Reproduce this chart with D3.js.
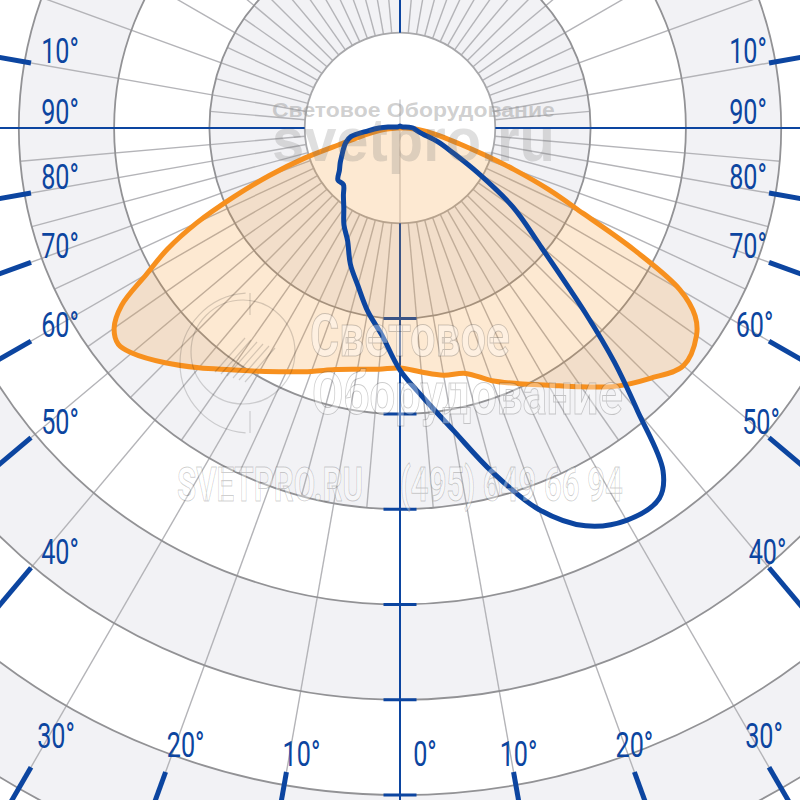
<!DOCTYPE html>
<html><head><meta charset="utf-8">
<script src="https://cdn.jsdelivr.net/npm/d3@7"></script>
<style>html,body{margin:0;padding:0;background:#fff}svg{display:block}</style>
</head><body>
<svg id="c" width="800" height="800"></svg>
<script>
// ---------------- DATA ----------------
// gamma angle (deg): 0 = straight down, negative = left, positive = right
const orangeAngles = [-180,-135,-100,-90,-85,-80,-77.5,-75,-72.5,-70,-67.5,-65,-62.5,-60,-57.5,-55,-52.5,-50,-45,-40,-35,-30,-25,-20,-15,-10,-5,0,5,10,15,20,25,30,35,40,45,50,55,57.5,60,62.5,65,67.5,70,72.5,75,80,85,90,100,135];
const orangeValues = [0.5,0.5,0.5,1.6,7.9,15.7,22,31.5,52.5,72.9,94.4,117.5,137.5,153.7,173.2,183.1,186.3,183.6,174.2,164.2,154.8,147.4,141.1,135.9,131.2,128.5,127,125.9,128.5,131.7,133.3,141.1,148,155.8,165.8,176.8,185.7,194.1,189.9,183.6,169.5,138.5,106,84.5,63.5,45.1,32.5,18.9,9.4,2.1,0.5,0.5];
const blueAngles = [-180,-135,-110,-100,-95,-90,-85,-80,-75,-70,-65,-60,-55,-50,-45,-40,-35,-30,-25,-20,-15,-10,-5,0,5,10,15,20,25,30,35,37.5,40,42.5,45,50,55,60,65,70,75,80,85,90,95,110,135];
const blueValues = [1,1,1.6,3.1,6.3,11,16.8,26.2,29.4,31.5,33.6,36.2,38.8,42.5,42,46.2,51.4,58.8,65.1,76.1,85.5,97.6,109.1,127,142.2,161.1,186.8,213,230.3,237.7,237.2,226.7,194.1,166.3,138,96,72.4,47.2,30.4,21,12.6,9.4,7.9,6.8,4.7,1.6,1];
const ringValues = [50,100,150,200,250,300,350,400,450];
const labelAngles = [-100,-90,-80,-70,-60,-50,-40,-30,-20,-10,0,10,20,30,40,50,60,70,80,90,100];
const labelTexts = ["10°","90°","80°","70°","60°","50°","40°","30°","20°","10°","0°","10°","20°","30°","40°","50°","60°","70°","80°","90°","10°"];
const tickAngles = [-100,-80,-70,-60,-50,-40,-30,-20,-10,10,20,30,40,50,60,70,80,100];

// ---------------- LAYOUT ----------------
const cx = 400, cy = 128;
const ringStep = 50, ringPx = 95.3;
const r = d3.scaleLinear().domain([0, ringStep]).range([0, ringPx]);
const rad = d => d * Math.PI / 180;
const pt = (g, rr) => [cx + rr * Math.sin(rad(g)), cy + rr * Math.cos(rad(g))];
const BLUE = "#0c45a0";
const svg = d3.select("#c");

// background bands
svg.append("g").selectAll("circle")
  .data(ringValues.map((v, i) => ({v, k: i + 1})).reverse())
  .join("circle")
  .attr("cx", cx).attr("cy", cy).attr("r", d => r(d.v))
  .attr("fill", d => d.k % 2 === 0 ? "#f2f2f5" : "#ffffff");

// radial grid lines
const r0 = r(ringValues[0]);
const fine = d3.range(-175, 180, 5).filter(g => g % 10 !== 0);
const coarse = d3.range(-170, 180, 10).filter(g => g !== 0 && Math.abs(g) !== 90);
const fineEnd = g => Math.abs(g) < 90 ? r(ringValues[3]) : r(ringValues[1]);
const gl = svg.append("g").attr("stroke", "#b4b4b8").attr("stroke-width", 1.4);
gl.selectAll("line.f").data(fine).join("line").attr("class", "f")
  .attr("x1", g => pt(g, r0)[0]).attr("y1", g => pt(g, r0)[1])
  .attr("x2", g => pt(g, fineEnd(g))[0]).attr("y2", g => pt(g, fineEnd(g))[1]);
gl.selectAll("line.c").data(coarse).join("line").attr("class", "c")
  .attr("x1", g => pt(g, r0)[0]).attr("y1", g => pt(g, r0)[1])
  .attr("x2", g => pt(g, 1300)[0]).attr("y2", g => pt(g, 1300)[1]);
// faint vertical line inside the inner circle
svg.append("line").attr("x1", cx).attr("x2", cx).attr("y1", cy - r0 * 0.3).attr("y2", cy + r0)
  .attr("stroke", "#c4c4c8").attr("stroke-width", 1.2);

// ring outlines
svg.append("g").selectAll("circle").data(ringValues).join("circle")
  .attr("cx", cx).attr("cy", cy).attr("r", d => r(d))
  .attr("fill", "none").attr("stroke", (d, i) => i === 0 ? "#a8a8ab" : "#929295").attr("stroke-width", 1.8);

// blue axes
const ax = svg.append("g").attr("stroke", BLUE).attr("stroke-width", 2);
ax.append("line").attr("x1", 0).attr("x2", cx - r0).attr("y1", cy).attr("y2", cy);
ax.append("line").attr("x1", cx + r0).attr("x2", 800).attr("y1", cy).attr("y2", cy);
ax.append("line").attr("x1", cx).attr("x2", cx).attr("y1", 0).attr("y2", cy - r0);
ax.append("line").attr("x1", cx).attr("x2", cx).attr("y1", cy + r0).attr("y2", 800);
svg.append("g").attr("stroke", BLUE).attr("stroke-width", 3)
  .selectAll("line").data(ringValues.slice(1, 7)).join("line")
  .attr("x1", cx - 16.5).attr("x2", cx + 16.5)
  .attr("y1", d => cy + r(d)).attr("y2", d => cy + r(d));

// frame points for angle ticks
const frameL = 31, frameR = 769, frameB = 772;
function framePoint(g) {
  const s = Math.sin(rad(g)), c = Math.cos(rad(g));
  let t = Infinity;
  if (s < 0) t = Math.min(t, (frameL - cx) / s);
  if (s > 0) t = Math.min(t, (frameR - cx) / s);
  if (c > 0) t = Math.min(t, (frameB - cy) / c);
  return t;
}
svg.append("g").attr("stroke", BLUE).attr("stroke-width", 5)
  .selectAll("line").data(tickAngles).join("line")
  .attr("x1", g => pt(g, framePoint(g))[0]).attr("y1", g => pt(g, framePoint(g))[1])
  .attr("x2", g => pt(g, 1300)[0]).attr("y2", g => pt(g, 1300)[1]);

// orange curve (filled)
const lineR = d3.lineRadial().curve(d3.curveCatmullRomClosed.alpha(0.5))
  .angle(d => Math.PI - rad(d[0])).radius(d => r(d[1]));
const orangeData = orangeAngles.map((a, i) => [a, orangeValues[i]]);
const blueData = blueAngles.map((a, i) => [a, blueValues[i]]);
const plot = svg.append("g").attr("transform", `translate(${cx},${cy})`);
plot.append("path").attr("d", lineR(orangeData))
  .attr("fill", "rgba(247,146,30,0.2)").attr("stroke", "#f7901e").attr("stroke-width", 5)
  .attr("stroke-linejoin", "round");

// watermark (scaled text: natural width * sx = target width)
const wm = svg.append("g");
function wText(parent, str, x, y, size, targetW, attrs) {
  const g = parent.append("g");
  const t = g.append("text").attr("font-size", size).text(str);
  Object.entries(attrs).forEach(([k, v]) => t.attr(k, v));
  const w = t.node().getComputedTextLength();
  g.attr("transform", `translate(${x},${y}) scale(${targetW / w},1)`);
  return g;
}
const sans = {"font-family": "Liberation Sans, Arial, sans-serif", "font-weight": "bold"};
wText(wm, "Световое Оборудование", 272, 117, 21, 283, {...sans, fill: "rgba(150,150,150,0.45)"});
wText(wm, "svetpro.ru", 272, 161, 62, 283, {...sans, fill: "rgba(110,110,110,0.22)"});
const emb = {"font-family": "Roboto, sans-serif", "font-weight": "bold", fill: "rgba(255,255,255,0.35)", stroke: "rgba(0,0,0,0.2)", "stroke-width": 1};
wText(wm, "Световое", 310, 356, 60, 200, emb);
wText(wm, "Оборудование", 312, 414, 60, 311, emb);
wText(wm, "SVETPRO.RU", 177, 501, 48, 186, emb);
wText(wm, "(495) 649 66 94", 400, 501, 48, 223, emb);
const logo = wm.append("g").attr("fill", "none").attr("stroke", "rgba(0,0,0,0.16)").attr("stroke-width", 1.2);
logo.append("circle").attr("cx", 243).attr("cy", 352).attr("r", 52);
logo.append("path").attr("d", d3.arc()({innerRadius: 70, outerRadius: 70, startAngle: -Math.PI * 0.02, endAngle: -Math.PI * 0.98}))
  .attr("transform", "translate(250,363)");
logo.append("line").attr("x1", 250).attr("x2", 250).attr("y1", 293).attr("y2", 315);
logo.append("line").attr("x1", 250).attr("x2", 250).attr("y1", 411).attr("y2", 433);
d3.range(6).forEach(i => {
  logo.append("line").attr("x1", 215 + i * 6).attr("y1", 372 + i * 2).attr("x2", 245 + i * 6).attr("y2", 338 + i * 2);
});

// blue curve
plot.append("path").attr("d", lineR(blueData))
  .attr("fill", "none").attr("stroke", BLUE).attr("stroke-width", 5).attr("stroke-linejoin", "round");

// angle labels
function labelPos(g) {
  const a = Math.abs(g);
  const p = pt(g, framePoint(g));
  if (a <= 30) {
    const y = 766 - Math.max(0, a - 10) * 0.9;
    if (g === 0) return {x: p[0] + 25, y};
    return {x: p[0] + 10 - 0.5 * g, y};
  }
  const y = a > 90 ? p[1] : p[1] - 4;
  if (g < 0) return {x: 60, y};
  return {x: 748 + Math.max(0, 70 - a) * 0.65, y};
}
svg.append("g").selectAll("g").data(labelAngles).join("g")
  .attr("transform", g => { const q = labelPos(g); return `translate(${q.x},${q.y}) scale(0.7,1)`; })
  .append("text").attr("text-anchor", "middle")
  .attr("font-family", "Roboto, 'DejaVu Sans', sans-serif").attr("font-size", 36)
  .attr("fill", BLUE).text((g, i) => labelTexts[i]);
</script>
</body></html>
